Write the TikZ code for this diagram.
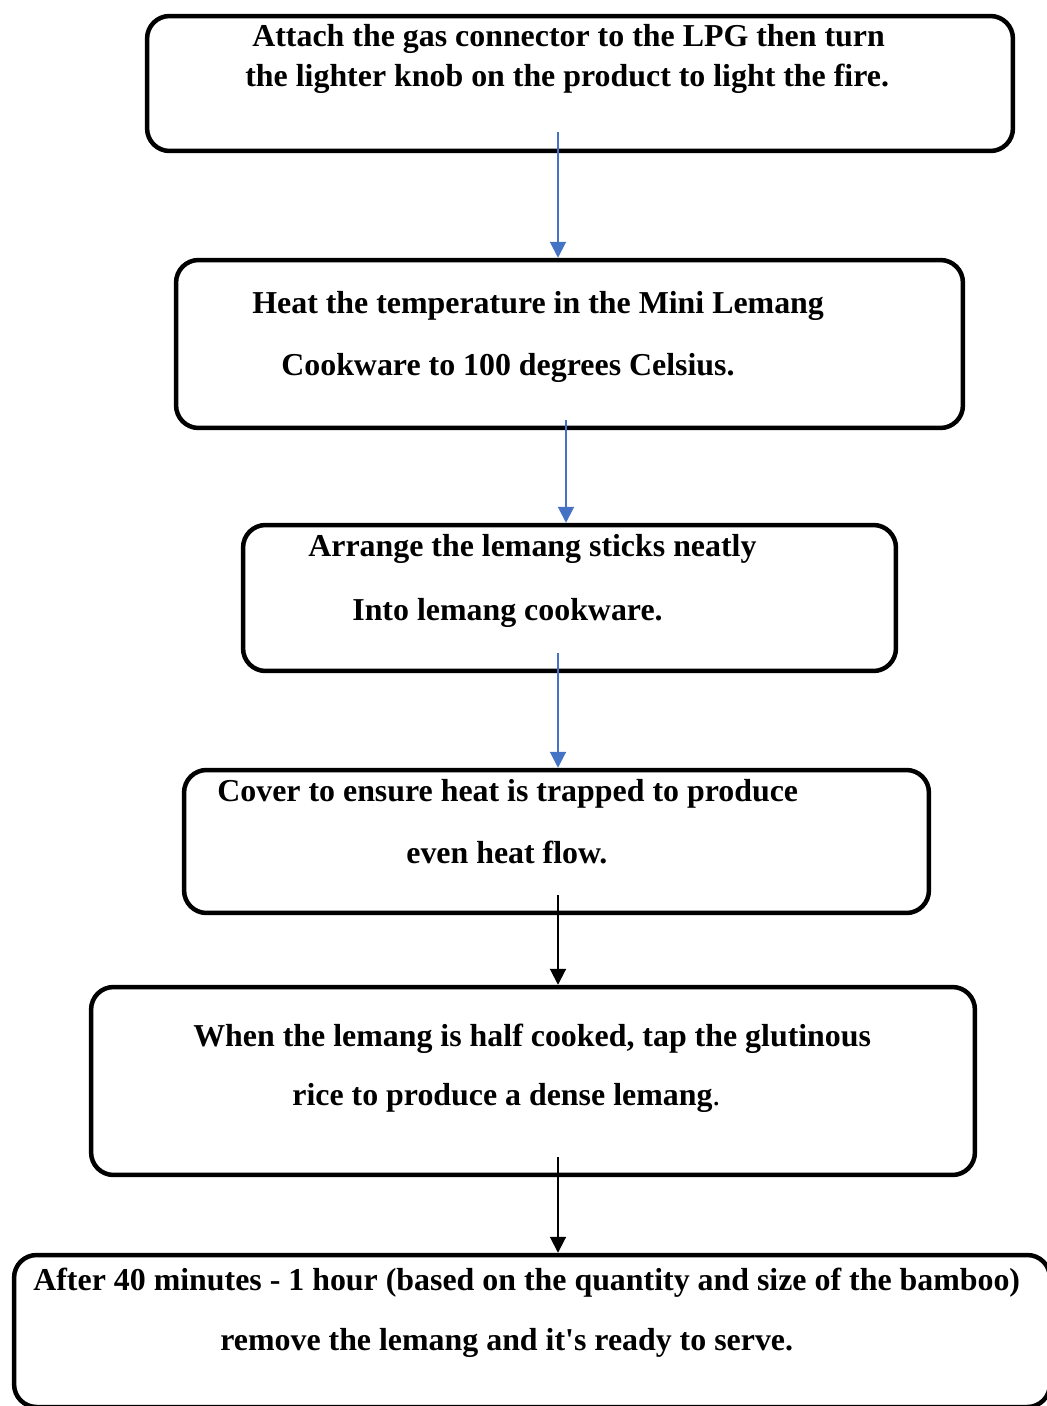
\documentclass[tikz,border=0pt]{standalone}
\usepackage{fontspec}
\setmainfont{Liberation Serif}
\usetikzlibrary{arrows.meta}
\definecolor{flowblue}{RGB}{68,114,196}

\tikzset{stepbox/.style={draw,line width=0.09cm,rounded corners=0.45cm,inner sep=0cm},
line text/.style={font=\fontsize{18.15}{22}\selectfont\bfseries,anchor=base west,inner sep=0cm},
blue arrow/.style={draw=flowblue,line width=0.04cm,-{Triangle[width=0.32cm,length=0.32cm]},flowblue},
black arrow/.style={draw=black,line width=0.04cm,-{Triangle[width=0.32cm,length=0.32cm]}}}

\begin{document}
\begin{tikzpicture}[x=0.02cm,y=-0.02cm]
\useasboundingbox (0,0) rectangle (1046,1406);

%% boxes
\node [stepbox,minimum width=17.32cm,minimum height=2.7cm] (b1) at (580,83.5) {};
\node [stepbox,minimum width=15.74cm,minimum height=3.36cm] (b2) at (569.5,344) {};
\node [stepbox,minimum width=13.06cm,minimum height=2.92cm] (b3) at (569.5,598) {};
\node [stepbox,minimum width=14.9cm,minimum height=2.86cm] (b4) at (556.5,841.5) {};
\node [stepbox,minimum width=17.68cm,minimum height=3.76cm] (b5) at (533,1081) {};
\node [stepbox,minimum width=20.72cm,minimum height=3.04cm] (b6) at (532,1331) {};

%% text lines
\node [line text] (t1a) at (252,46.7) {Attach the gas connector to the LPG then turn};
\node [line text] (t1b) at (245,86.7) {the lighter knob on the product to light the fire.};
\node [line text] (t2a) at (252,313.3) {Heat the temperature in the Mini Lemang};
\node [line text] (t2b) at (281,375) {Cookware to 100 degrees Celsius.};
\node [line text] (t3a) at (308,556.7) {Arrange the lemang sticks neatly};
\node [line text] (t3b) at (352,620) {Into lemang cookware.};
\node [line text] (t4a) at (217,801.7) {Cover to ensure heat is trapped to produce};
\node [line text] (t4b) at (406,863) {even heat flow.};
\node [line text] (t5a) at (193,1046.7) {When the lemang is half cooked, tap the glutinous};
\node [line text] (t5b) at (292,1105) {rice to produce a dense lemang{\mdseries .}};
\node [line text] (t6a) at (33,1290) {After 40 minutes - 1 hour (based on the quantity and size of the bamboo)};
\node [line text] (t6b) at (220,1350) {remove the lemang and it\textquotesingle s ready to serve.};

%% arrow starts
\coordinate (a1) at (558,132);
\coordinate (a2) at (566,420);
\coordinate (a3) at (558,653);
\coordinate (a4) at (558,895);
\coordinate (a5) at (558,1157);

%% arrows
\draw [blue arrow] (a1) -- (a1 |- b2.north);
\draw [blue arrow] (a2) -- (a2 |- b3.north);
\draw [blue arrow] (a3) -- (a3 |- b4.north);
\draw [black arrow] (a4) -- (a4 |- b5.north);
\draw [black arrow] (a5) -- (a5 |- b6.north);

\end{tikzpicture}
\end{document}
